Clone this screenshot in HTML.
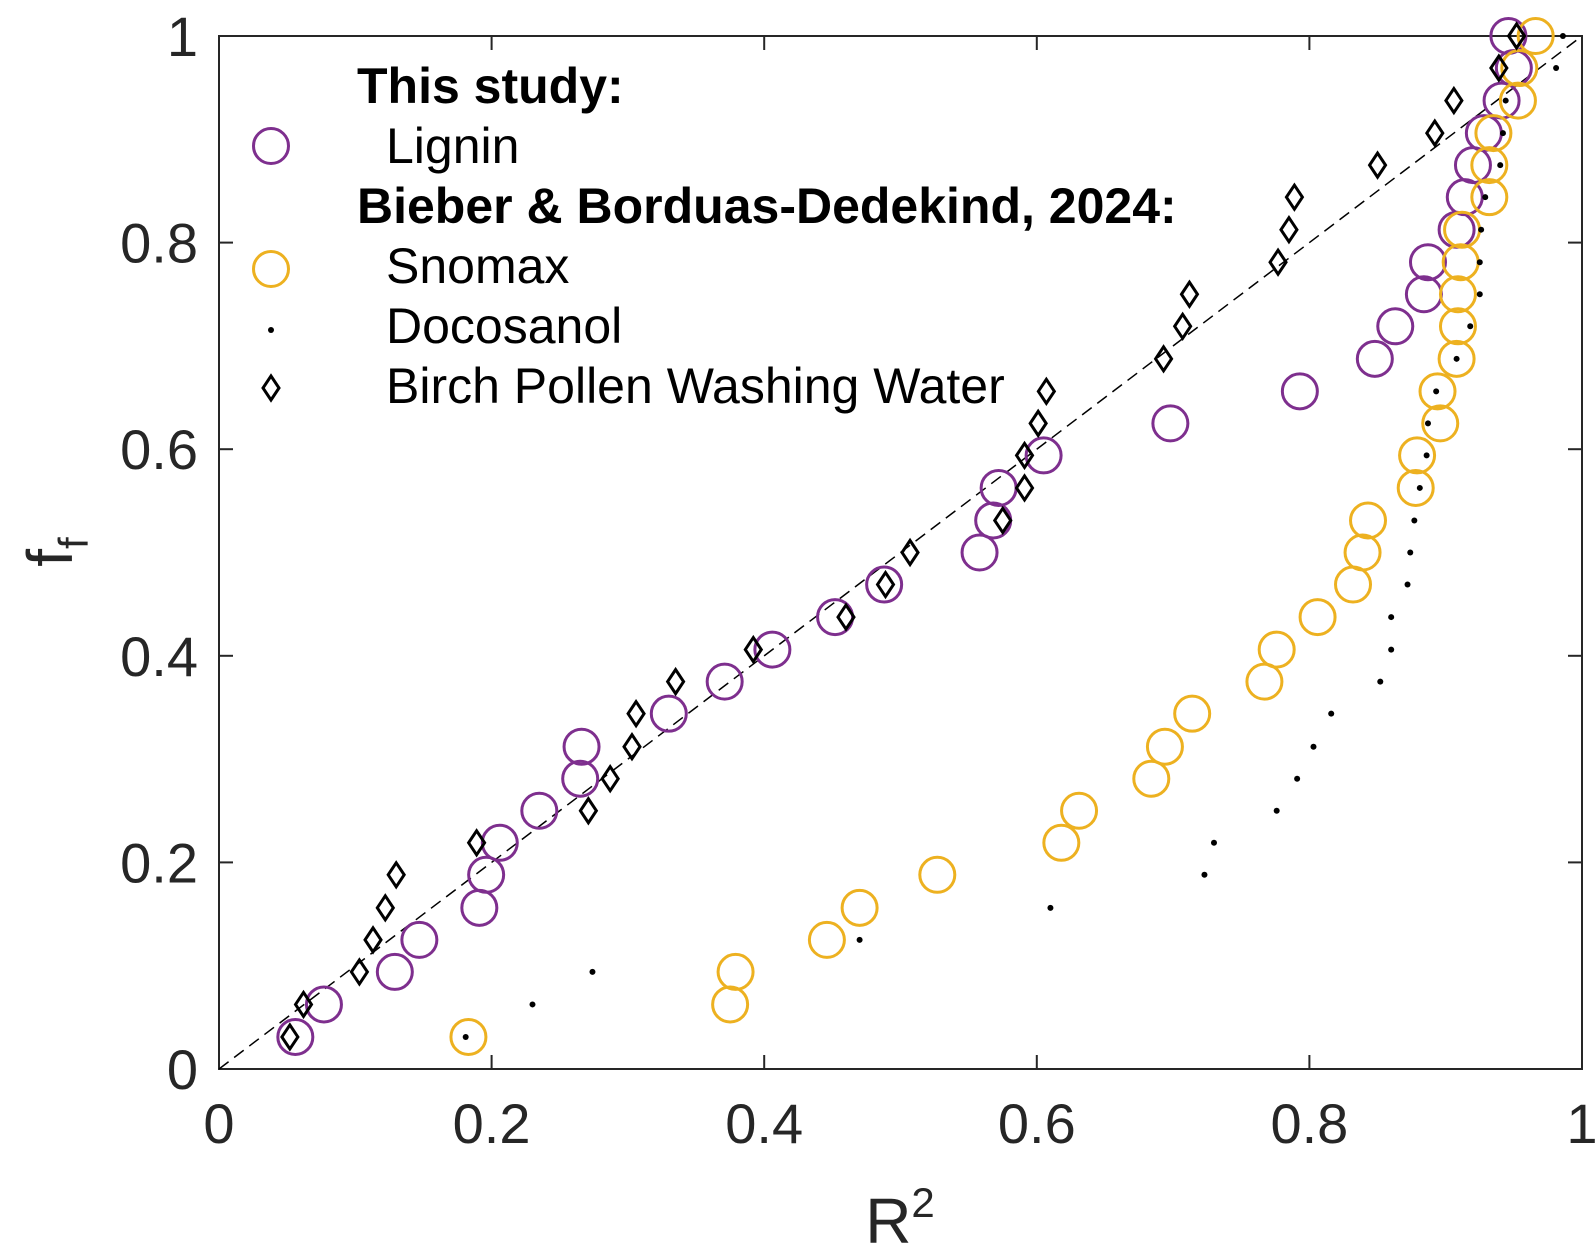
<!DOCTYPE html>
<html><head><meta charset="utf-8"><style>
html,body{margin:0;padding:0;background:#fff;}
svg{display:block;font-family:"Liberation Sans",Arial,sans-serif;}
</style></head><body>
<svg id="chart" width="1595" height="1251" viewBox="0 0 1595 1251">
<rect x="0" y="0" width="1595" height="1251" fill="#fff"/>
<g id="axes"></g>
<g id="marks"></g>
<g id="legend">
<text x="357" y="103" font-size="50" font-weight="bold" fill="#000">This study:</text>
<circle cx="271" cy="146" r="17.5" fill="none" stroke="#7E2F8E" stroke-width="3"/>
<text x="386" y="163" font-size="50" fill="#000">Lignin</text>
<text x="357" y="223" font-size="50" font-weight="bold" fill="#000">Bieber &amp; Borduas-Dedekind, 2024:</text>
<circle cx="271" cy="269" r="17.5" fill="none" stroke="#EDB120" stroke-width="3"/>
<text x="386" y="283" font-size="50" fill="#000">Snomax</text>
<circle cx="271" cy="330" r="3" fill="#000"/>
<text x="386" y="343" font-size="50" fill="#000">Docosanol</text>
<path d="M271 376 L279 388 L271 400 L263 388 Z" fill="none" stroke="#000" stroke-width="3"/>
<text x="386" y="403" font-size="50" fill="#000">Birch Pollen Washing Water</text>
</g>
</svg>
<script>
const ffLevels = [0.031,0.0625,0.094,0.125,0.156,0.188,0.219,0.25,0.281,0.312,0.344,0.375,0.406,0.4375,0.469,0.5,0.531,0.5625,0.594,0.625,0.656,0.6875,0.719,0.75,0.781,0.8125,0.844,0.875,0.906,0.9375,0.969,1.0];
const ligninR2 = [0.056,0.077,0.129,0.147,0.191,0.196,0.206,0.235,0.265,0.266,0.330,0.371,0.406,0.452,0.488,0.558,0.568,0.572,0.605,0.698,0.793,0.848,0.863,0.884,0.887,0.908,0.914,0.920,0.928,0.941,0.950,0.946];
const snomaxR2 = [0.183,0.375,0.379,0.446,0.470,0.527,0.618,0.631,0.684,0.694,0.714,0.767,0.776,0.806,0.832,0.839,0.843,0.878,0.879,0.896,0.894,0.908,0.909,0.909,0.911,0.912,0.932,0.932,0.935,0.953,0.954,0.966];
const docosanolR2 = [0.181,0.230,0.274,0.470,0.610,0.723,0.730,0.776,0.791,0.803,0.816,0.852,0.860,0.860,0.872,0.874,0.877,0.881,0.886,0.887,0.893,0.908,0.918,0.925,0.925,0.926,0.929,0.940,0.942,0.944,0.981,0.986];
const birchR2 = [0.052,0.062,0.103,0.113,0.122,0.130,0.189,0.271,0.287,0.303,0.306,0.335,0.392,0.460,0.489,0.507,0.575,0.591,0.591,0.601,0.607,0.693,0.707,0.712,0.777,0.785,0.789,0.850,0.892,0.906,0.939,0.952];
const xTicks = [0,0.2,0.4,0.6,0.8,1];
const xTickLabels = ["0","0.2","0.4","0.6","0.8","1"];
const yTicks = [0,0.2,0.4,0.6,0.8,1];
const yTickLabels = ["0","0.2","0.4","0.6","0.8","1"];

const X0=219,X1=1582,Y0=1069,Y1=36;
function sx(v){return X0+v*(X1-X0);}
function sy(v){return Y0-v*(Y0-Y1);}
const NS="http://www.w3.org/2000/svg";
function mk(tag,attrs,parent){const e=document.createElementNS(NS,tag);for(const k in attrs)e.setAttribute(k,attrs[k]);parent.appendChild(e);return e;}
const axes=document.getElementById('axes'), marks=document.getElementById('marks');

let box=mk('rect',{x:X0,y:Y1,width:X1-X0,height:Y0-Y1,fill:'none',stroke:'#262626','stroke-width':2},axes);


xTicks.forEach((t,i)=>{
  const x=sx(t);
  mk('line',{x1:x,y1:Y0,x2:x,y2:Y0-14,stroke:'#262626','stroke-width':2},axes);
  mk('line',{x1:x,y1:Y1,x2:x,y2:Y1+14,stroke:'#262626','stroke-width':2},axes);
  const tx=mk('text',{x:x,y:1143,'font-size':56,fill:'#262626','text-anchor':'middle'},axes);
  tx.textContent=xTickLabels[i];
  
  
});
yTicks.forEach((t,i)=>{
  const y=sy(t);
  mk('line',{x1:X0,y1:y,x2:X0+14,y2:y,stroke:'#262626','stroke-width':2},axes);
  mk('line',{x1:X1,y1:y,x2:X1-14,y2:y,stroke:'#262626','stroke-width':2},axes);
  const tx=mk('text',{x:198,y:y+20,'font-size':56,fill:'#262626','text-anchor':'end'},axes);
  tx.textContent=yTickLabels[i];
  
  
});
let xl=mk('text',{x:900,y:1243,'font-size':64,fill:'#262626','text-anchor':'middle'},axes);
xl.innerHTML='R<tspan font-size="42" dy="-26">2</tspan>';


let yl=mk('text',{x:0,y:0,'font-size':64,fill:'#262626','text-anchor':'middle',transform:'translate(72,552) rotate(-90)'},axes);
yl.innerHTML='f<tspan font-size="42" dy="16">f</tspan>';



let ref=mk('line',{x1:sx(0),y1:sy(0),x2:sx(1),y2:sy(1),stroke:'#000','stroke-width':1.5,'stroke-dasharray':'12,7'},marks);



ligninR2.forEach((v,i)=>{
  const c=mk('circle',{cx:sx(v),cy:sy(ffLevels[i]),r:17.5,fill:'none',stroke:'#7E2F8E','stroke-width':3},marks);
  
  
});
snomaxR2.forEach((v,i)=>{
  const c=mk('circle',{cx:sx(v),cy:sy(ffLevels[i]),r:17.5,fill:'none',stroke:'#EDB120','stroke-width':3},marks);
  
  
});
docosanolR2.forEach((v,i)=>{
  const c=mk('circle',{cx:sx(v),cy:sy(ffLevels[i]),r:3,fill:'#000'},marks);
  
  
});
birchR2.forEach((v,i)=>{
  const x=sx(v),y=sy(ffLevels[i]);
  const p=mk('path',{d:`M${x} ${y-12} L${x+8} ${y} L${x} ${y+12} L${x-8} ${y} Z`,fill:'none',stroke:'#000','stroke-width':3},marks);
  
  
});
</script>
</body></html>
